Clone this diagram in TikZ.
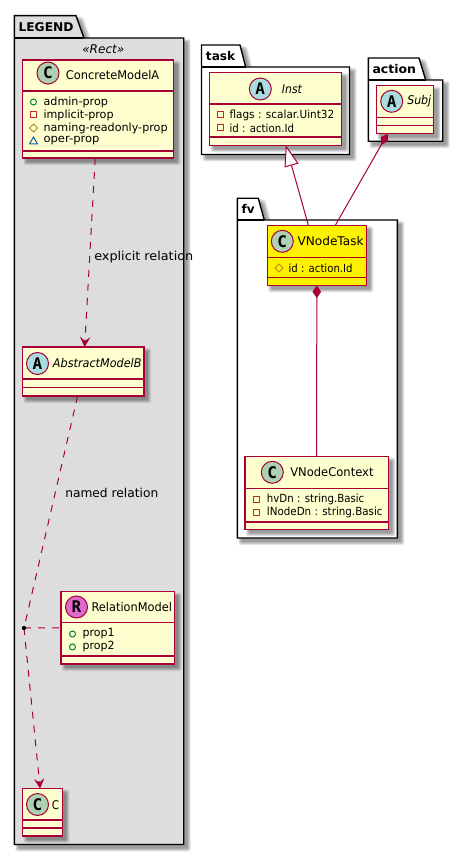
\documentclass[tikz,border=0pt]{standalone}
\usepackage{graphicx}
\usepackage{fontspec}
\setmainfont{DejaVu Sans}
\setmonofont{DejaVu Sans Mono}
\usetikzlibrary{arrows.meta}
\definecolor{umlline}{HTML}{A80036}
\definecolor{umlfill}{HTML}{FEFECE}
\definecolor{legendbg}{HTML}{DDDDDD}
\definecolor{spotc}{HTML}{ADD1B2}
\definecolor{spota}{HTML}{A9DCDF}
\definecolor{spotr}{HTML}{DF68CC}
\definecolor{icpub}{HTML}{038048}
\definecolor{icpriv}{HTML}{C82930}
\definecolor{icprot}{HTML}{B38D22}
\definecolor{icoper}{HTML}{1963A0}
\tikzset{
  x=0.75pt,y=-0.75pt,
  classbox/.style={draw=umlline,line width=0.85pt,inner sep=0pt,outer sep=0pt,anchor=north west},
  sepline/.style={draw=umlline,line width=0.85pt},
  spot/.style={circle,draw=umlline,line width=0.75pt,inner sep=0pt,outer sep=0pt,minimum size=16.5pt,text=black,font=\ttfamily\bfseries\fontsize{12pt}{12pt}\selectfont},
  cname/.style={inner sep=0pt,anchor=west,font=\fontsize{9pt}{11pt}\selectfont},
  iname/.style={inner sep=0pt,anchor=west,font=\itshape\fontsize{9pt}{11pt}\selectfont},
  attr/.style={inner sep=0pt,anchor=west,font=\fontsize{8.4pt}{10pt}\selectfont},
  pkgname/.style={inner sep=0pt,anchor=west,font=\bfseries\fontsize{9pt}{11pt}\selectfont},
  rellabel/.style={inner sep=0pt,anchor=west,font=\fontsize{9.2pt}{11pt}\selectfont},
  rel/.style={draw=umlline,line width=0.75pt},
  dashrel/.style={rel,dash pattern=on 5.25pt off 5.25pt},
  openhead/.style={-{Stealth[length=7.5pt,width=7.8pt,inset=3pt,fill=umlline]}},
  extendtail/.style={{Triangle[length=15.75pt,width=10.8pt,open,fill=white]}-},
  composetail/.style={{Diamond[length=9.6pt,width=6.4pt,fill=umlline]}-},
  icon/.style={line width=0.75pt},
  pkgline/.style={draw=black,line width=1.05pt,line join=miter},
}
% set text to a given width in pixels, stretching it horizontally only
\newsavebox{\fitbox}
\newcommand{\fitw}[2]{\sbox{\fitbox}{#2}\pgfmathsetmacro{\fitr}{#1*0.75/(\wd\fitbox/1pt)}\scalebox{\fitr}[1]{\usebox{\fitbox}}}
% soft shadow under a rectangle (pixel coordinates)
\newcommand{\softrect}[4]{%
  \foreach \gr in {3,2.2,1.4,0.6,-0.2}{%
    \fill[black,fill opacity=0.09,rounded corners=1.5pt]
      ({#1+4-\gr},{#2+4-\gr}) rectangle ({#3+4+\gr},{#4+4+\gr});}}
% class rectangle with its shadow: name, x1,y1,x2,y2, fill
\newcommand{\umlclass}[6]{%
  \softrect{#2}{#3}{#4}{#5}
  \node[classbox,fill=#6,minimum width={(#4-#2)*0.75pt},minimum height={(#5-#3)*0.75pt}] (#1) at (#2,#3) {};}
% package: x1, ytop, tab top right, tab bottom right, ybody, x2, y2, fill
\newcommand{\umlpackage}[8]{%
  \foreach \gr in {3,2.2,1.4,0.6,-0.2}{%
    \fill[black,fill opacity=0.09,rounded corners=1.5pt]
      ({#1+4-\gr},{#2+4-\gr}) -- ({#3+4+\gr},{#2+4-\gr}) -- ({#4+4+\gr},{#5+4-\gr}) -- ({#6+4+\gr},{#5+4-\gr})
      -- ({#6+4+\gr},{#7+4+\gr}) -- ({#1+4-\gr},{#7+4+\gr}) -- cycle;}
  \draw[pkgline,fill=#8] (#1,#2) -- (#3,#2) -- (#4,#5) -- (#6,#5) -- (#6,#7) -- (#1,#7) -- cycle;
  \draw[pkgline] (#1,#5) -- (#4,#5);}
\newcommand{\icpublic}[2]{\draw[icon,draw=icpub] (#1,#2) circle[radius=3];}
\newcommand{\icprivate}[2]{\draw[icon,draw=icpriv] ({#1-3},{#2-3}) rectangle ({#1+3},{#2+3});}
\newcommand{\icprotected}[2]{\draw[icon,draw=icprot] ({#1-4},#2) -- (#1,{#2-4}) -- ({#1+4},#2) -- (#1,{#2+4}) -- cycle;}
\newcommand{\icpackage}[2]{\draw[icon,draw=icoper] ({#1-4},{#2+3}) -- (#1,{#2-4}) -- ({#1+4},{#2+3}) -- cycle;}
\begin{document}
\begin{tikzpicture}
\useasboundingbox[fill=white] (0,0) rectangle (463,855);

% packages
\umlpackage{14.3}{15.7}{76}{84}{38}{183.7}{844.5}{legendbg}
\umlpackage{201.5}{45}{240}{245.7}{67}{349.5}{154.5}{white}
\umlpackage{368.3}{58}{419}{425.7}{80}{442.7}{141.3}{white}
\umlpackage{237.3}{198.3}{258.3}{264.3}{220}{397.3}{538}{white}
\node[pkgname] (plegend) at (18.3,27) {\fitw{55}{LEGEND}};
\node[pkgname] (ptask) at (205.7,56) {\fitw{29.3}{task}};
\node[pkgname] (paction) at (372.3,69) {\fitw{43.4}{action}};
\node[pkgname] (pfv) at (241.3,209) {\fitw{13}{fv}};
\node[inner sep=0pt,font=\itshape\fontsize{9pt}{11pt}\selectfont] (rectst) at (103.3,49.5) {\fitw{42}{«Rect»}};

% classes
\umlclass{cma}{22.5}{60}{173.5}{158}{umlfill}
\draw[sepline] (cma.west |- 0,91) -- (cma.east |- 0,91);
\draw[sepline] (cma.west |- 0,151) -- (cma.east |- 0,151);
\node[spot,fill=spotc] (scma) at (48,73) {C};
\node[cname] (ncma) at (65.7,75.5) {\fitw{93.3}{ConcreteModelA}};
\icpublic{33.5}{102}\node[attr] (a1) at (43.3,102) {\fitw{64.4}{admin-prop}};
\icprivate{33.5}{115}\node[attr] (a2) at (43.3,115) {\fitw{70}{implicit-prop}};
\icprotected{33.5}{128}\node[attr] (a3) at (43.3,128) {\fitw{124}{naming-readonly-prop}};
\icpackage{33.5}{141}\node[attr] (a4) at (43.3,141) {\fitw{56}{oper-prop}};

\umlclass{amb}{22.5}{347}{144}{396}{umlfill}
\draw[sepline] (amb.west |- 0,379) -- (amb.east |- 0,379);
\draw[sepline] (amb.west |- 0,387.5) -- (amb.east |- 0,387.5);
\node[spot,fill=spota] (samb) at (37.5,363.5) {A};
\node[iname] (namb) at (52.7,363.5) {\fitw{88.6}{AbstractModelB}};

\umlclass{rm}{61}{591.5}{174.5}{664}{umlfill}
\draw[sepline] (rm.west |- 0,622.7) -- (rm.east |- 0,622.7);
\draw[sepline] (rm.west |- 0,656) -- (rm.east |- 0,656);
\node[spot,fill=spotr] (srm) at (76.5,607) {R};
\node[cname] (nrm) at (91.3,607.5) {\fitw{80.4}{RelationModel}};
\icpublic{72.5}{634}\node[attr] (r1) at (82.3,634) {\fitw{32}{prop1}};
\icpublic{72.5}{647}\node[attr] (r2) at (82.3,647) {\fitw{32}{prop2}};

\umlclass{cc}{22.7}{788.5}{62.3}{836}{umlfill}
\draw[sepline] (cc.west |- 0,820) -- (cc.east |- 0,820);
\draw[sepline] (cc.west |- 0,828) -- (cc.east |- 0,828);
\node[spot,fill=spotc] (scc) at (37.5,804.5) {C};
\node[cname] (ncc) at (51.7,805) {\fitw{7.3}{C}};

\umlclass{inst}{209.5}{72.3}{341.7}{145.3}{umlfill}
\draw[sepline] (inst.west |- 0,104) -- (inst.east |- 0,104);
\draw[sepline] (inst.west |- 0,137) -- (inst.east |- 0,137);
\node[spot,fill=spota] (sinst) at (260.3,89) {A};
\node[iname] (ninst) at (281.7,89) {\fitw{20}{Inst}};
\icprivate{220}{115}\node[attr] (i1) at (229.3,115) {\fitw{104.7}{flags : scalar.Uint32}};
\icprivate{220}{128}\node[attr] (i2) at (229.3,128) {\fitw{64.4}{id : action.Id}};

\umlclass{subj}{376.3}{85.7}{433.7}{133.7}{umlfill}
\draw[sepline] (subj.west |- 0,117.3) -- (subj.east |- 0,117.3);
\draw[sepline] (subj.west |- 0,125.3) -- (subj.east |- 0,125.3);
\node[spot,fill=spota] (ssubj) at (391.7,101.3) {A};
\node[iname] (nsubj) at (407,101.5) {\fitw{24}{Subj}};

\umlclass{vt}{267.3}{225.3}{366.3}{285.3}{yellow}
\draw[sepline] (vt.west |- 0,257.3) -- (vt.east |- 0,257.3);
\draw[sepline] (vt.west |- 0,277.3) -- (vt.east |- 0,277.3);
\node[spot,fill=spotc] (svt) at (282.3,241.3) {C};
\node[cname] (nvt) at (297.3,241.5) {\fitw{66}{VNodeTask}};
\icprotected{279}{268}\node[attr] (v1) at (288.3,268) {\fitw{64}{id : action.Id}};

\umlclass{vc}{245}{456.7}{388.3}{529.3}{umlfill}
\draw[sepline] (vc.west |- 0,488.7) -- (vc.east |- 0,488.7);
\draw[sepline] (vc.west |- 0,522) -- (vc.east |- 0,522);
\node[spot,fill=spotc] (svc) at (272.3,472.3) {C};
\node[cname] (nvc) at (290,472.5) {\fitw{83.3}{VNodeContext}};
\icprivate{256}{499}\node[attr] (c1) at (266.7,499) {\fitw{97.3}{hvDn : string.Basic}};
\icprivate{256}{512}\node[attr] (c2) at (266.7,512) {\fitw{115.6}{lNodeDn : string.Basic}};

% connectors
\coordinate (dotc) at (24,628);
\draw[dashrel,openhead] (cma) -- (amb);
\node[rellabel] (lexp) at (94,257) {\fitw{99}{explicit relation}};
\draw[dashrel] (amb) -- (dotc);
\node[rellabel] (lnam) at (65,493) {\fitw{93}{named relation}};
\draw[dashrel] (dotc) -- (rm);
\draw[dashrel,openhead] (dotc) -- (cc);
\draw[rel,extendtail] (inst) -- (vt);
\draw[rel,composetail] ([xshift=-13pt]subj.south) -- ([xshift=13.9pt]vt.north);
\draw[rel,composetail] (vt) -- (vc);
% association point
\node[circle,fill=black,inner sep=0pt,outer sep=0pt,minimum size=3.2pt] (dot) at (dotc) {};
\end{tikzpicture}
\end{document}
